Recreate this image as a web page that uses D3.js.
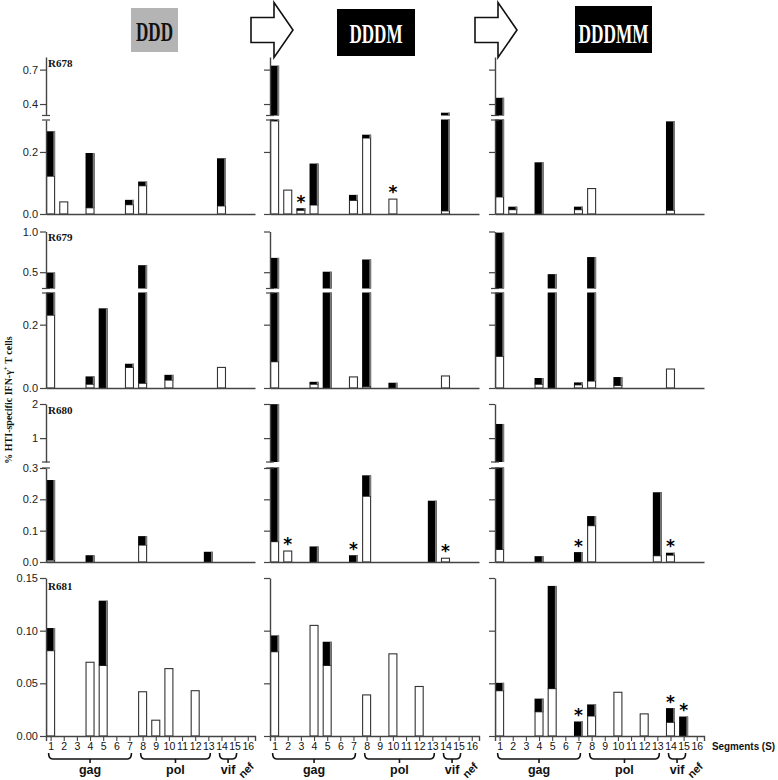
<!DOCTYPE html>
<html>
<head>
<meta charset="utf-8">
<script src="https://cdn.jsdelivr.net/npm/d3@7"></script>
<style>
  body { margin: 0; background: #fff; }
  svg { display: block; }
</style>
</head>
<body>
<div id="chart"></div>
<script>
const W = 778, H = 780;

const stages = ['DDD', 'DDDM', 'DDDMM'];
const donors = ['R678', 'R679', 'R680', 'R681'];
const segments = d3.range(1, 17);
const genes = [
  {name: 'gag', from: 1, to: 7},
  {name: 'pol', from: 8, to: 13},
  {name: 'vif', from: 14, to: 15}
];
const nefSegment = 16;

// total bar height per segment (one row per stage: DDD, DDDM, DDDMM)
const R678_total = [
  [0.265, 0.039, 0, 0.195, 0, 0, 0.044, 0.103, 0, 0, 0, 0, 0, 0.178, 0, 0],
  [0.73, 0.077, 0.017, 0.161, 0, 0, 0.06, 0.254, 0, 0.048, 0, 0, 0, 0.32, 0, 0],
  [0.45, 0.022, 0, 0.165, 0, 0, 0.022, 0.082, 0, 0, 0, 0, 0, 0.297, 0, 0]
];
// white (lower) part of each bar
const R678_white = [
  [0.122, 0.039, 0, 0.02, 0, 0, 0.03, 0.091, 0, 0, 0, 0, 0, 0.026, 0, 0],
  [0.3, 0.077, 0.012, 0.029, 0, 0, 0.044, 0.245, 0, 0.048, 0, 0, 0, 0.01, 0, 0],
  [0.055, 0.014, 0, 0, 0, 0, 0.014, 0.082, 0, 0, 0, 0, 0, 0.012, 0, 0]
];
const R679_total = [
  [0.49, 0, 0, 0.035, 0.25, 0, 0.075, 0.58, 0, 0.04, 0, 0, 0, 0.065, 0, 0],
  [0.67, 0, 0, 0.018, 0.5, 0, 0.035, 0.65, 0, 0.015, 0, 0, 0, 0.038, 0, 0],
  [0.98, 0, 0, 0.03, 0.47, 0, 0.016, 0.68, 0, 0.033, 0, 0, 0, 0.06, 0, 0]
];
const R679_white = [
  [0.23, 0, 0, 0.012, 0, 0, 0.065, 0.015, 0, 0.025, 0, 0, 0, 0.065, 0, 0],
  [0.083, 0, 0, 0.012, 0, 0, 0.035, 0.005, 0, 0, 0, 0, 0, 0.038, 0, 0],
  [0.10, 0, 0, 0.012, 0, 0, 0.01, 0.022, 0, 0.008, 0, 0, 0, 0.06, 0, 0]
];
const R680_total = [
  [0.26, 0, 0, 0.02, 0, 0, 0, 0.081, 0, 0, 0, 0, 0.031, 0, 0, 0],
  [1.98, 0.035, 0, 0.048, 0, 0, 0.02, 0.275, 0, 0, 0, 0, 0.194, 0.012, 0, 0],
  [1.40, 0, 0, 0.017, 0, 0, 0.03, 0.145, 0, 0, 0, 0, 0.221, 0.028, 0, 0]
];
const R680_white = [
  [0.006, 0, 0, 0, 0, 0, 0, 0.054, 0, 0, 0, 0, 0, 0, 0, 0],
  [0.065, 0.035, 0, 0, 0, 0, 0, 0.21, 0, 0, 0, 0, 0, 0.012, 0, 0],
  [0.04, 0, 0, 0, 0, 0, 0, 0.116, 0, 0, 0, 0, 0.02, 0.022, 0, 0]
];
const R681_total = [
  [0.102, 0, 0, 0.07, 0.128, 0, 0, 0.042, 0.015, 0.064, 0, 0.043, 0, 0, 0, 0],
  [0.095, 0, 0, 0.105, 0.089, 0, 0, 0.039, 0, 0.078, 0, 0.047, 0, 0, 0, 0],
  [0.05, 0, 0, 0.035, 0.142, 0, 0.0133, 0.0295, 0, 0.0415, 0, 0.021, 0, 0.026, 0.018, 0]
];
const R681_white = [
  [0.081, 0, 0, 0.07, 0.067, 0, 0, 0.042, 0.015, 0.064, 0, 0.043, 0, 0, 0, 0],
  [0.08, 0, 0, 0.105, 0.067, 0, 0, 0.039, 0, 0.078, 0, 0.047, 0, 0, 0, 0],
  [0.043, 0, 0, 0.023, 0.045, 0, 0, 0.019, 0, 0.0415, 0, 0.021, 0, 0.013, 0, 0]
];

const totals = [R678_total, R679_total, R680_total, R681_total];
const whites = [R678_white, R679_white, R680_white, R681_white];

// [donor, stage, segment] marked with a star
const stars = [
  ['R678', 'DDDM', 3], ['R678', 'DDDM', 10],
  ['R680', 'DDDM', 2], ['R680', 'DDDM', 7], ['R680', 'DDDM', 14],
  ['R680', 'DDDMM', 7], ['R680', 'DDDMM', 14],
  ['R681', 'DDDMM', 7], ['R681', 'DDDMM', 14], ['R681', 'DDDMM', 15]
];

// broken y axes: lower and upper part per donor
const yLowDomain = [[0, 0.303], [0, 0.3], [0, 0.3], [0, 0.15]];
const yHighDomain = [[0.3, 0.81], [0.3, 1.0], [0.3, 2.0], null];
const yLowTicks = [[0, 0.2], [0, 0.2], [0, 0.1, 0.2, 0.3], [0, 0.05, 0.1, 0.15]];
const yHighTicks = [[0.4, 0.7], [0.5, 1.0], [1, 2], []];
const yLowFormat = ['.1f', '.1f', '.1f', '.2f'];
const yHighFormat = ['.1f', '.1f', 'd', 'd'];

// ---- layout ----
const colX = [46, 270, 495];
const plotW = 209;
const barW = 9;
const rows = [
  {low: [214, 120], high: [115.5, 57], labelY: 67},
  {low: [388, 293], high: [288.5, 231.5], labelY: 241},
  {low: [562, 468], high: [462, 404], labelY: 414},
  {low: [736, 578], high: null, labelY: 590}
];

const x = d3.scaleLinear().domain([0.65, 16.55]).range([0, plotW]);

const svg = d3.select('#chart')
  .append('svg')
    .attr('width', W)
    .attr('height', H)
    .style('font-family', '"Liberation Sans", Arial, sans-serif');

// ---- header boxes and arrows ----
const headers = [
  {x: 131, y: 8, w: 47, h: 44, fill: '#b4b4b4', color: '#111', tl: 37, base: 41},
  {x: 337, y: 9, w: 78, h: 47, fill: '#000', color: '#fff', tl: 53, base: 42.5},
  {x: 575, y: 6, w: 77, h: 47, fill: '#000', color: '#fff', tl: 70, base: 42.5}
];
headers.forEach((h, i) => {
  svg.append('rect')
    .attr('x', h.x).attr('y', h.y).attr('width', h.w).attr('height', h.h)
    .attr('fill', h.fill);
  svg.append('text')
    .attr('x', h.x + h.w / 2 - h.tl / 2).attr('y', h.base)
    .attr('textLength', h.tl).attr('lengthAdjust', 'spacingAndGlyphs')
    .attr('font-family', '"Liberation Serif", "Times New Roman", serif')
    .attr('font-weight', 'bold').attr('font-size', 27)
    .attr('fill', h.color)
    .text(stages[i]);
});

[251, 475].forEach(x0 => {
  const pts = [[0, 15], [23, 15], [23, 0], [42, 27.5], [23, 55], [23, 40], [0, 40]]
    .map(p => [x0 + p[0], 2.5 + p[1]]);
  svg.append('path')
    .attr('d', d3.line()(pts) + 'Z')
    .attr('fill', '#fff').attr('stroke', '#111').attr('stroke-width', 1.6)
    .attr('stroke-linejoin', 'miter');
});

// ---- panels ----
donors.forEach((donor, r) => {
  const L = rows[r];
  const parts = [d3.scaleLinear().domain(yLowDomain[r]).range(L.low)];
  if (yHighDomain[r]) parts.push(d3.scaleLinear().domain(yHighDomain[r]).range(L.high));

  stages.forEach((stage, c) => {
    const g = svg.append('g').attr('transform', `translate(${colX[c]},0)`);

    // bars: white lower part, black upper part, split over the axis break
    const drawPart = (seg, a, b, kind) => {
      parts.forEach(s => {
        const [d0, d1] = s.domain();
        const lo = Math.max(a, d0), hi = Math.min(b, d1);
        if (hi - lo <= 1e-6) return;
        const bx = x(seg) - barW / 2;
        const by = s(hi), bh = s(lo) - s(hi);
        if (kind === 'white') {
          g.append('rect')
            .attr('x', bx + 0.5).attr('y', by).attr('width', barW - 1).attr('height', bh)
            .attr('fill', '#fff').attr('stroke', '#333').attr('stroke-width', 1.1);
        } else {
          g.append('rect')
            .attr('x', bx).attr('y', by - 0.5).attr('width', barW).attr('height', bh + 0.5)
            .attr('fill', '#000');
          g.append('rect')
            .attr('x', bx + barW - 1.8).attr('y', by - 0.5).attr('width', 1.8).attr('height', bh + 0.5)
            .attr('fill', '#7a7a7a');
        }
      });
    };

    segments.forEach((seg, i) => {
      const tot = totals[r][c][i];
      const wh = whites[r][c][i];
      if (wh > 0) drawPart(seg, 0, wh, 'white');
      if (tot > wh) drawPart(seg, wh, tot, 'black');
    });

    // stars
    stars.filter(s => s[0] === donor && s[1] === stage).forEach(s => {
      const tot = totals[r][c][s[2] - 1];
      const sc = parts.find(p => tot <= p.domain()[1]) || parts[parts.length - 1];
      g.append('text')
        .attr('x', x(s[2])).attr('y', sc(tot) - 1)
        .attr('text-anchor', 'middle')
        .attr('font-family', '"DejaVu Sans", sans-serif')
        .attr('font-weight', 'bold')
        .attr('font-size', 17).attr('fill', '#000')
        .text('*');
    });

    // y axis (one per part)
    parts.forEach((s, k) => {
      const ticks = k === 0 ? yLowTicks[r] : yHighTicks[r];
      const fmt = k === 0 ? yLowFormat[r] : yHighFormat[r];
      const ax = d3.axisLeft(s).tickValues(ticks).tickSize(6).tickSizeOuter(0)
        .tickFormat(c === 0 ? d3.format(fmt) : '');
      const ag = g.append('g').call(ax);
      ag.select('.domain').attr('stroke', '#444').attr('stroke-width', 1.4);
      ag.selectAll('.tick line').attr('stroke', '#444').attr('stroke-width', 1.2);
      ag.selectAll('.tick text')
        .attr('font-family', '"Liberation Sans", Arial, sans-serif')
        .attr('font-size', 11).attr('fill', '#222').attr('x', -8);
    });

    // break marks
    if (parts.length > 1) {
      [L.low[1], L.high[0]].forEach(yb => {
        g.append('line')
          .attr('x1', -4).attr('x2', 4).attr('y1', yb).attr('y2', yb)
          .attr('stroke', '#444').attr('stroke-width', 1.2);
      });
    }

    // x axis
    const xa = d3.axisBottom(x).tickSizeOuter(0);
    if (r === 3) xa.tickValues(segments).tickSize(5);
    else xa.tickValues([]);
    const xg = g.append('g').attr('transform', `translate(0,${L.low[0]})`).call(xa);
    xg.select('.domain').attr('stroke', '#444').attr('stroke-width', 1.4);
    xg.selectAll('.tick line').attr('stroke', '#444').attr('stroke-width', 1.1);
    xg.selectAll('.tick text')
      .attr('font-family', '"Liberation Sans", Arial, sans-serif')
      .attr('font-size', 10.5).attr('fill', '#111').attr('y', 7);

    // gene braces under the bottom row
    if (r === 3) {
      const by = 759;
      genes.forEach(gn => {
        const x0 = x(gn.from) - 2, x1 = x(gn.to) + 2, xm = (x0 + x1) / 2;
        const p = d3.path();
        p.moveTo(x0, by - 6);
        p.quadraticCurveTo(x0, by, x0 + 4, by);
        p.lineTo(x1 - 4, by);
        p.quadraticCurveTo(x1, by, x1, by - 6);
        p.moveTo(xm, by);
        p.lineTo(xm, by + 4);
        g.append('path').attr('d', p.toString())
          .attr('fill', 'none').attr('stroke', '#111').attr('stroke-width', 1.6);
        g.append('text')
          .attr('x', xm).attr('y', 774)
          .attr('text-anchor', 'middle')
          .attr('font-size', 12.5).attr('font-weight', 'bold').attr('fill', '#111')
          .text(gn.name);
      });
      g.append('text')
        .attr('transform', `translate(${x(nefSegment) + 1},773) rotate(-45)`)
        .attr('text-anchor', 'middle')
        .attr('font-size', 11).attr('font-weight', 'bold').attr('fill', '#111')
        .text('nef');
    }
  });

  // donor label
  svg.append('text')
    .attr('x', colX[0] + 2).attr('y', L.labelY)
    .attr('font-family', '"Liberation Serif", "Times New Roman", serif')
    .attr('font-weight', 'bold').attr('font-size', 11).attr('fill', '#111')
    .text(donor);
});

// axis titles
svg.append('text')
  .attr('x', 712).attr('y', 750)
  .attr('textLength', 63).attr('lengthAdjust', 'spacingAndGlyphs')
  .attr('font-size', 10.5).attr('font-weight', 'bold').attr('fill', '#111')
  .text('Segments (S)');

const yt = svg.append('text')
  .attr('transform', 'translate(12,400) rotate(-90)')
  .attr('text-anchor', 'middle')
  .attr('font-family', '"Liberation Serif", "Times New Roman", serif')
  .attr('font-weight', 'bold').attr('font-size', 10).attr('fill', '#111');
yt.append('tspan').text('% HTI-specific IFN-γ');
yt.append('tspan').attr('dy', -4).attr('font-size', 7).text('+');
yt.append('tspan').attr('dy', 4).text(' T cells');
</script>
</body>
</html>
